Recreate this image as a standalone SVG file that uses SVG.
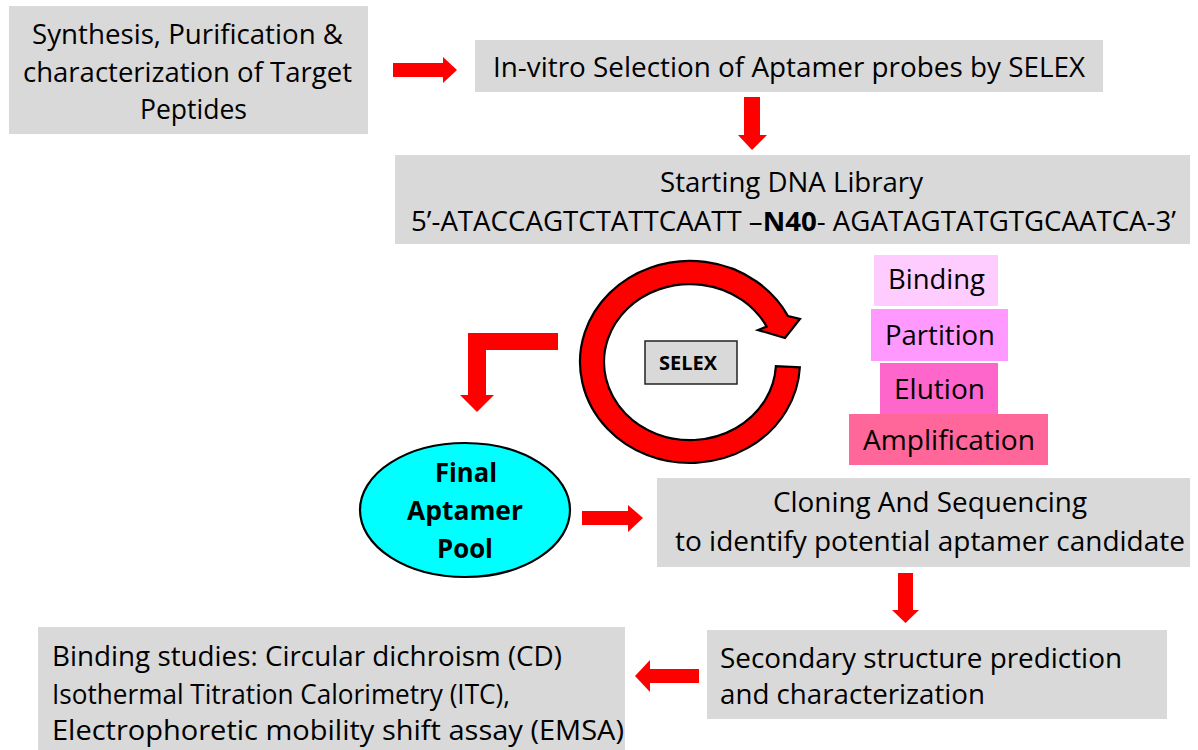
<svg xmlns="http://www.w3.org/2000/svg" width="1198" height="750" viewBox="0 0 1198 750">
<style>
.box{fill:#d9d9d9}
.t{font-family:"Open Sans","Noto Sans","Liberation Sans",sans-serif;font-size:27px;fill:#000}
.b{font-weight:bold}
.arr{fill:#ff0000}
</style>
<rect width="1198" height="750" fill="#ffffff"/>
<g id="connectors">
<polygon class="arr" points="393,63 443,63 443,57 457,70 443,83 443,77 393,77"/>
<polygon class="arr" points="744,97 760,97 760,135 767,135 752,150 738,135 744,135"/>
<polygon class="arr" points="558,333 558,350 486,350 486,395 494,395 477,412 460,395 468,395 468,333"/>
<polygon class="arr" points="582,511 628,511 628,505 643,518 628,532 628,525 582,525"/>
<polygon class="arr" points="898,573 913,573 913,610 919,610 905.5,623 892,610 898,610"/>
<polygon class="arr" points="699,669 650,669 650,660 635,676 650,692 650,683 699,683"/>
</g>
<g id="cycle">
<path d="M 799.85 367.3 A 110 101 0 1 1 788 316.1 L 800 319 L 785 338 L 758 330 L 766.6 326.6 A 86 78 0 1 0 775.9 366.1 Z" fill="#ff0000" stroke="#000" stroke-width="2.2" stroke-linejoin="miter"/>
</g>
<g id="synthesis">
<rect class="box" x="9" y="6" width="359" height="128"/>
<text class="t" x="32" y="44" textLength="311" lengthAdjust="spacingAndGlyphs">Synthesis, Purification &amp;</text>
<text class="t" x="23" y="82" textLength="329" lengthAdjust="spacingAndGlyphs">characterization of Target</text>
<text class="t" x="140" y="119" textLength="107" lengthAdjust="spacingAndGlyphs">Peptides</text>
</g>
<g id="invitro">
<rect class="box" x="475" y="40" width="628" height="52"/>
<text class="t" x="493" y="77" textLength="592" lengthAdjust="spacingAndGlyphs">In-vitro Selection of Aptamer probes by SELEX</text>
</g>
<g id="library">
<rect class="box" x="395" y="155" width="795" height="89"/>
<text class="t" x="660" y="192" textLength="263" lengthAdjust="spacingAndGlyphs">Starting DNA Library</text>
<text class="t" x="411" y="231" textLength="765" lengthAdjust="spacingAndGlyphs">5’-ATACCAGTCTATTCAATT –<tspan class="b">N40</tspan>- AGATAGTATGTGCAATCA-3’</text>
</g>
<g id="selex">
<rect x="645" y="341" width="92" height="43" fill="#d9d9d9" stroke="#222" stroke-width="1.5"/>
<text class="t b" x="659" y="370" font-size="19" textLength="58" lengthAdjust="spacingAndGlyphs" style="font-size:19px">SELEX</text>
</g>
<g id="binding">
<rect x="874" y="255" width="124" height="51" fill="#ffccff"/>
<text class="t" x="888" y="289" textLength="97" lengthAdjust="spacingAndGlyphs">Binding</text>
</g>
<g id="partition">
<rect x="871" y="309" width="137" height="52" fill="#ff99ff"/>
<text class="t" x="885" y="345" textLength="110" lengthAdjust="spacingAndGlyphs">Partition</text>
</g>
<g id="elution">
<rect x="880" y="363" width="118" height="51" fill="#ff66cc"/>
<text class="t" x="894" y="399" textLength="91" lengthAdjust="spacingAndGlyphs">Elution</text>
</g>
<g id="amplification">
<rect x="849" y="414" width="199" height="51" fill="#ff6699"/>
<text class="t" x="863" y="450" textLength="172" lengthAdjust="spacingAndGlyphs">Amplification</text>
</g>
<g id="pool">
<ellipse cx="465" cy="510" rx="105" ry="67" fill="#00ffff" stroke="#000" stroke-width="2.2"/>
<text class="t b" x="435" y="482" textLength="62" lengthAdjust="spacingAndGlyphs">Final</text>
<text class="t b" x="407" y="520" textLength="116" lengthAdjust="spacingAndGlyphs">Aptamer</text>
<text class="t b" x="437" y="558" textLength="56" lengthAdjust="spacingAndGlyphs">Pool</text>
</g>
<g id="cloning">
<rect class="box" x="657" y="478" width="533" height="89"/>
<text class="t" x="773" y="512" textLength="314" lengthAdjust="spacingAndGlyphs">Cloning And Sequencing</text>
<text class="t" x="675" y="551" textLength="510" lengthAdjust="spacingAndGlyphs">to identify potential aptamer candidate</text>
</g>
<g id="secondary">
<rect class="box" x="707" y="630" width="460" height="89"/>
<text class="t" x="720" y="668" textLength="402" lengthAdjust="spacingAndGlyphs">Secondary structure prediction</text>
<text class="t" x="720" y="704" textLength="265" lengthAdjust="spacingAndGlyphs">and characterization</text>
</g>
<g id="bindingstudies">
<rect class="box" x="38" y="627" width="587" height="123"/>
<text class="t" x="52" y="666" textLength="510" lengthAdjust="spacingAndGlyphs">Binding studies: Circular dichroism (CD)</text>
<text class="t" x="52" y="704" textLength="458" lengthAdjust="spacingAndGlyphs">Isothermal Titration Calorimetry (ITC),</text>
<text class="t" x="52" y="740" textLength="572" lengthAdjust="spacingAndGlyphs">Electrophoretic mobility shift assay (EMSA)</text>
</g>
</svg>
